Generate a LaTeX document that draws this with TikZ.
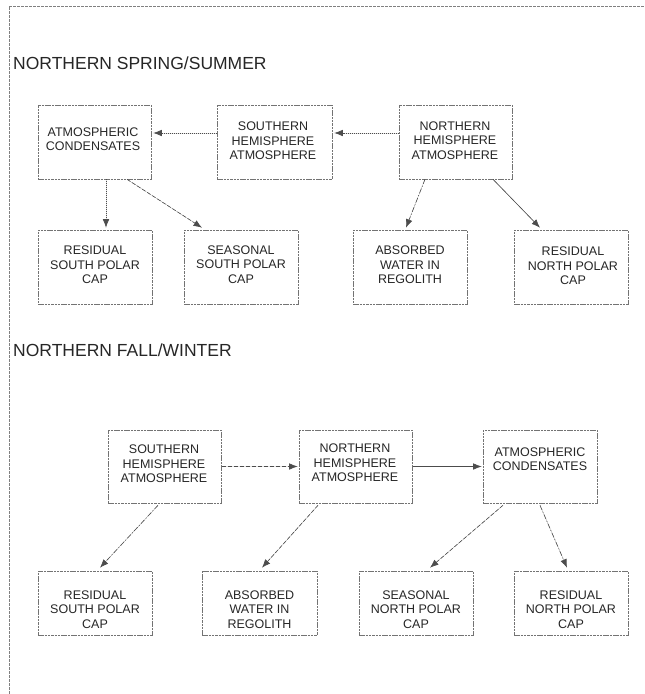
\documentclass[tikz,border=0pt]{standalone}
\usepackage{fontspec}
\setmainfont{Liberation Sans}
\usetikzlibrary{arrows.meta,calc}
\begin{document}
\begin{tikzpicture}[x=1pt,y=-1pt,
  box/.style={draw=black!55, line width=0.6pt, dash pattern=on 2.5pt off 0.8pt, inner sep=0pt, minimum height=74pt},
  lowbox/.style={box, minimum height=64pt},
  txt/.style={align=center, inner sep=0pt, font=\fontsize{12.5}{14.5}\selectfont, text=black!85},
  ttl/.style={anchor=west, inner sep=0pt, font=\fontsize{17.5}{20}\selectfont, text=black!85},
  arr/.style={-{Latex[length=8.5pt,width=6.5pt]}, draw=black!70, fill=black!85, line width=0.6pt},
  dotline/.style={dash pattern=on 1pt off 1pt},
  dashline/.style={dash pattern=on 4pt off 2pt},
  dashdotline/.style={dash pattern=on 5pt off 2pt on 1pt off 2pt},
  frame/.style={draw=black!50, line width=0.6pt, dash pattern=on 3pt off 1pt}
]
\useasboundingbox (0,0) rectangle (645,694);
% frame
\coordinate (fbl) at (9,694);
\coordinate (ftl) at (9,6);
\coordinate (ftr) at (645,6);
\draw[frame] (fbl) -- (ftl) -- (ftr);

% titles
\node[ttl] (t1) at (13,63) {NORTHERN SPRING/SUMMER};
\node[ttl] (t2) at (13,350) {NORTHERN FALL/WINTER};

% top section boxes
\node[box, minimum width=113pt] (A) at (94.5,142) {};
\node[box, minimum width=115pt] (B) at (274.5,142) {};
\node[box, minimum width=113pt] (C) at (455.5,142) {};
\node[box, minimum width=114pt] (D) at (95,267) {};
\node[box, minimum width=114pt] (E) at (241,267) {};
\node[box, minimum width=114pt] (F) at (410,267) {};
\node[box, minimum width=114pt] (G) at (571,267) {};

\node[txt] (tA) at (93,139) {ATMOSPHERIC\\CONDENSATES};
\node[txt] (tB) at (273,141) {SOUTHERN\\HEMISPHERE\\ATMOSPHERE};
\node[txt] (tC) at (455,140.5) {NORTHERN\\HEMISPHERE\\ATMOSPHERE};
\node[txt] (tD) at (95,265) {RESIDUAL\\SOUTH POLAR\\CAP};
\node[txt] (tE) at (241,264.5) {SEASONAL\\SOUTH POLAR\\CAP};
\node[txt] (tF) at (410,265) {ABSORBED\\WATER IN\\REGOLITH};
\node[txt] (tG) at (573,266) {RESIDUAL\\NORTH POLAR\\CAP};

% bottom section boxes
\node[box, minimum width=113pt, minimum height=73pt] (H) at (164.5,466.5) {};
\node[box, minimum width=113pt, minimum height=73pt] (I) at (355.5,466.5) {};
\node[box, minimum width=114pt, minimum height=73pt] (J) at (540,466.5) {};
\node[lowbox, minimum width=114pt] (K) at (95,603) {};
\node[lowbox, minimum width=115pt] (L) at (259.5,603) {};
\node[lowbox, minimum width=114pt] (M) at (416,603) {};
\node[lowbox, minimum width=114pt] (N) at (571,603) {};

\node[txt] (tH) at (164,464) {SOUTHERN\\HEMISPHERE\\ATMOSPHERE};
\node[txt] (tI) at (355,463) {NORTHERN\\HEMISPHERE\\ATMOSPHERE};
\node[txt] (tJ) at (540,459) {ATMOSPHERIC\\CONDENSATES};
\node[txt] (tK) at (95,609.5) {RESIDUAL\\SOUTH POLAR\\CAP};
\node[txt] (tL) at (259.5,609.5) {ABSORBED\\WATER IN\\REGOLITH};
\node[txt] (tM) at (416,609.5) {SEASONAL\\NORTH POLAR\\CAP};
\node[txt] (tN) at (571,609.5) {RESIDUAL\\NORTH POLAR\\CAP};

% top section arrows
\draw[arr, dotline] ([yshift=9pt]C.west) -- ([yshift=9pt,xshift=2pt]B.east);
\draw[arr, dotline] ([yshift=9pt]B.west) -- ([yshift=9pt,xshift=2pt]A.east);
\draw[arr, dotline] ([xshift=11.5pt]A.south) -- ([xshift=11pt,yshift=2pt]D.north);
\draw[arr, dashline] ([xshift=32.5pt]A.south) -- ([xshift=-39pt,yshift=2pt]E.north);
\draw[arr, dashdotline] ([xshift=-30.5pt]C.south) -- ([xshift=-4pt,yshift=2pt]F.north);
\draw[arr] ([xshift=37.5pt]C.south) -- ([xshift=-31pt,yshift=2pt]G.north);

% bottom section arrows
\draw[arr, dashline] ([xshift=1pt]H.east) -- ([xshift=-1pt]I.west);
\draw[arr] ([xshift=1pt]I.east) -- ([xshift=-1pt]J.west);
\draw[arr, dashdotline] ([xshift=-6.5pt,yshift=-2pt]H.south) -- ([xshift=5pt,yshift=3pt]K.north);
\draw[arr, dashline] ([xshift=-37.5pt,yshift=-2pt]I.south) -- ([xshift=2.5pt,yshift=3pt]L.north);
\draw[arr, dashline] ([xshift=-37pt,yshift=-2pt]J.south) -- ([xshift=14pt,yshift=3pt]M.north);
\draw[arr, dashdotline] ([yshift=-2pt]J.south) -- ([xshift=-4pt,yshift=3pt]N.north);
\end{tikzpicture}
\end{document}
